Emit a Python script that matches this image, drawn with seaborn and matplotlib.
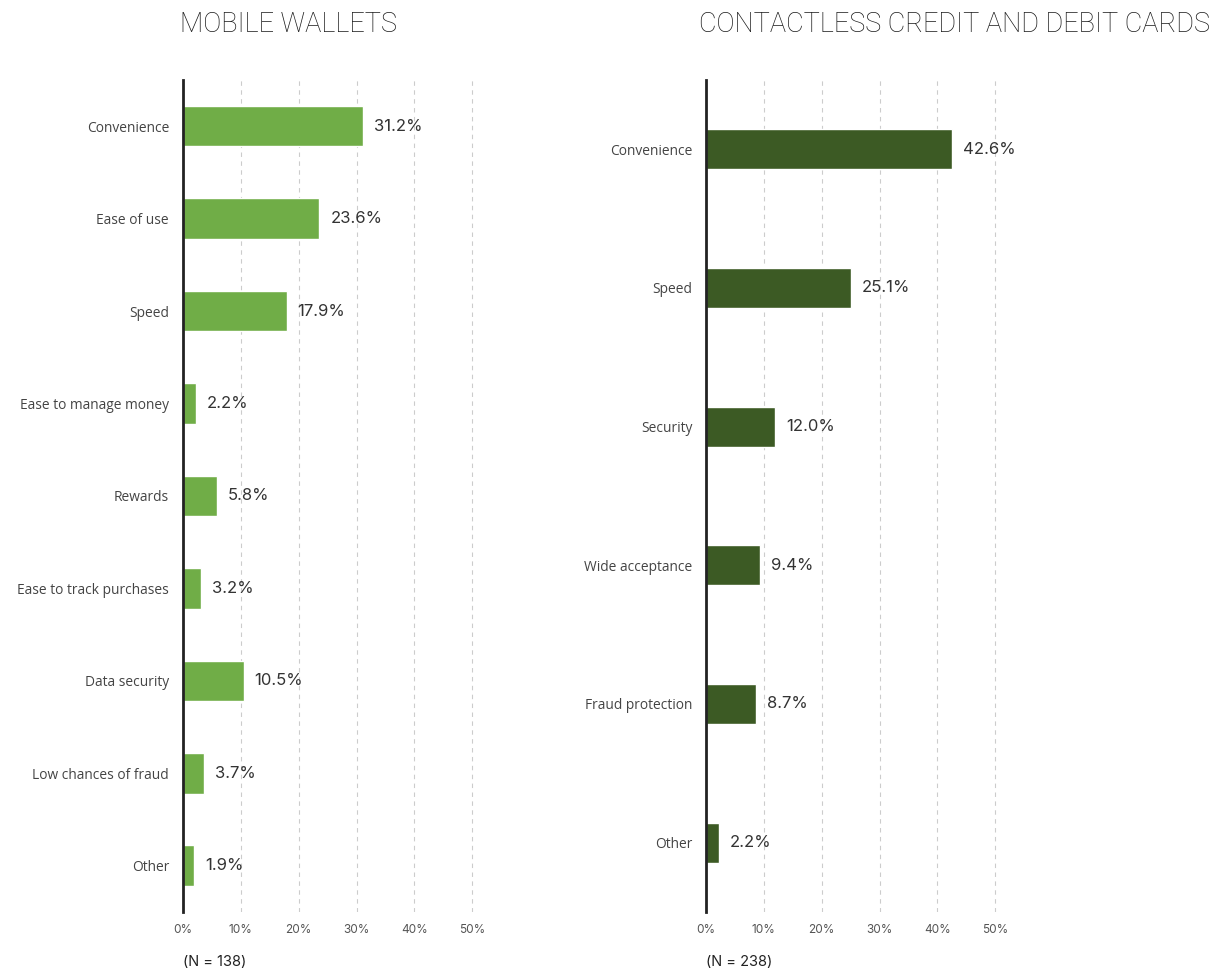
import matplotlib
matplotlib.use("Agg")
import matplotlib.pyplot as plt
import seaborn as sns
import pandas as pd
import numpy as np

sns.set_theme(style="white")
plt.rcParams["font.family"] = ["Open Sans", "DejaVu Sans"]

wallet_reasons = ["Convenience", "Ease of use", "Speed", "Ease to manage money", "Rewards",
                  "Ease to track purchases", "Data security", "Low chances of fraud", "Other"]
wallet_values = [31.2, 23.6, 17.9, 2.2, 5.8, 3.2, 10.5, 3.7, 1.9]

card_reasons = ["Convenience", "Speed", "Security", "Wide acceptance", "Fraud protection", "Other"]
card_values = [42.6, 25.1, 12.0, 9.4, 8.7, 2.2]

x_ticks = [0, 10, 20, 30, 40, 50]
x_tick_labels = ["0%", "10%", "20%", "30%", "40%", "50%"]

wallet_color = "#70AD47"
card_color = "#3C5A24"

fig = plt.figure(figsize=(12.19, 9.76), dpi=100)
ax_w = fig.add_axes([0.1501, 0.0656, 0.261, 0.8525])
ax_c = fig.add_axes([0.5792, 0.0656, 0.261, 0.8525])


def draw_panel(ax, labels, values, color, bar_height, n_text, boundary_ticks):
    df = pd.DataFrame({"reason": labels, "share": values})
    sns.barplot(data=df, y="reason", x="share", orient="h", color=color,
                width=bar_height, saturation=1, ax=ax, zorder=3)
    n = len(labels)
    ax.set_xlim(0, 55)
    ax.set_ylim(n - 0.5, -0.5)
    ax.set_xticks(x_ticks)
    ax.set_xticklabels(x_tick_labels, fontsize=8.5, color="#555555", family="Inter")
    ax.tick_params(axis="x", length=0, pad=9)
    ax.tick_params(axis="y", length=0, pad=10, labelsize=9.9, labelcolor="#444444")
    ax.set_xlabel("")
    ax.set_ylabel("")
    for x in x_ticks[1:]:
        ax.axvline(x, color="#cccccc", linestyle=(0, (4, 4)), linewidth=0.8, zorder=1)
    for side in ["top", "right", "bottom"]:
        ax.spines[side].set_visible(False)
    ax.spines["left"].set_color("#222222")
    ax.spines["left"].set_linewidth(2)
    ax.spines["left"].set_zorder(4)
    if boundary_ticks:
        ax.set_yticks(np.arange(-0.5, n, 1.0), minor=True)
        ax.tick_params(axis="y", which="minor", length=4, width=1.5, color="#222222")
    for i, v in enumerate(values):
        ax.text(v + 1.9, i, f"{v:.1f}%", va="center", ha="left",
                fontsize=12, color="#333333", family="Inter")
    ax.text(0, -0.06, n_text, transform=ax.transAxes, fontsize=10.5,
            color="#222222", ha="left", va="center", family="Inter")


draw_panel(ax_w, wallet_reasons, wallet_values, wallet_color, 0.44, "(N = 138)", True)
draw_panel(ax_c, card_reasons, card_values, card_color, 0.29, "(N = 238)", False)

title_style = dict(fontsize=19.5, color="#1a1a1a", family=["Roboto", "DejaVu Sans"],
                   fontweight="light", ha="center", va="center")
fig.text(289 / 1219, 1 - 24 / 976, "MOBILE WALLETS", **title_style)
fig.text(955 / 1219, 1 - 24 / 976, "CONTACTLESS CREDIT AND DEBIT CARDS", **title_style)

fig.savefig("out.png", dpi=100, facecolor="white")
